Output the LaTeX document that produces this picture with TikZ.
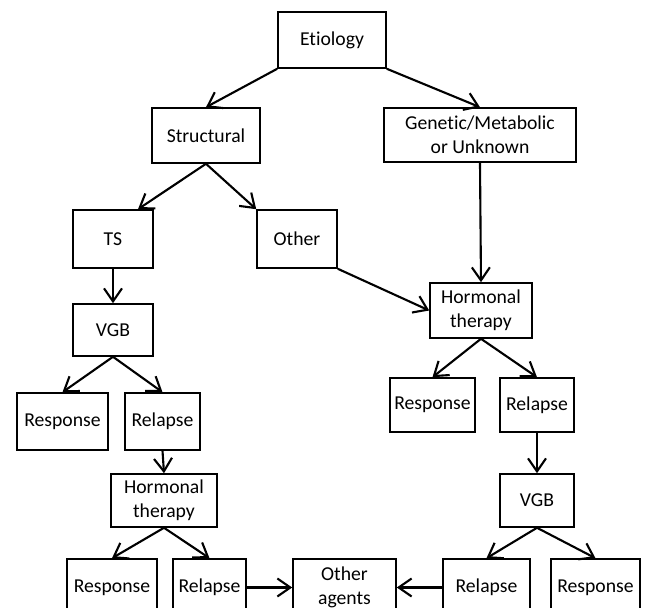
\documentclass[tikz,border=0pt]{standalone}
\usepackage{fontspec}
\setmainfont{Carlito}[Ligatures=NoCommon]
\usetikzlibrary{arrows.meta}
\begin{document}
\begin{tikzpicture}[
    box/.style={draw, line width=0.9pt, align=center, inner sep=1pt,
      font=\fontsize{11.2}{13.6}\selectfont},
    link/.style={line width=1.2pt, -{Straight Barb[length=2.6mm, width=3.6mm]}}
  ]
      \useasboundingbox (0,0) rectangle (12.92,-12.16);
      \draw
        (6.64,-0.80) node[box, minimum width=2.16cm, minimum height=1.12cm] (etio){Etiology}
        (4.12,-2.71) node[box, minimum width=2.16cm, minimum height=1.10cm] (struct){Structural}
        (9.60,-2.70) node[box, minimum width=3.84cm, minimum height=1.08cm] (gen){Genetic/Metabolic\\or Unknown}
        (2.26,-4.78) node[box, minimum width=1.60cm, minimum height=1.16cm] (ts){TS}
        (5.94,-4.78) node[box, minimum width=1.60cm, minimum height=1.16cm] (other){Other}
        (9.62,-6.21) node[box, minimum width=2.04cm, minimum height=1.10cm] (hormR){Hormonal\\therapy}
        (2.26,-6.60) node[box, minimum width=1.60cm, minimum height=1.04cm] (vgbL){VGB}
        (1.25,-8.43) node[box, minimum width=1.82cm, minimum height=1.14cm] (respL){Response}
        (3.25,-8.43) node[box, minimum width=1.50cm, minimum height=1.14cm] (relL){Relapse}
        (8.65,-8.10) node[box, minimum width=1.70cm, minimum height=1.08cm] (respR){Response}
        (10.74,-8.10) node[box, minimum width=1.48cm, minimum height=1.08cm] (relR){Relapse}
        (3.28,-10.01) node[box, minimum width=2.12cm, minimum height=1.06cm] (hormL){Hormonal\\therapy}
        (10.74,-10.01) node[box, minimum width=1.48cm, minimum height=1.06cm] (vgbR){VGB}
        (2.24,-11.75) node[box, minimum width=1.80cm, minimum height=1.14cm] (respB){Response}
        (4.19,-11.75) node[box, minimum width=1.46cm, minimum height=1.14cm] (relB){Relapse}
        (6.89,-11.75) node[box, minimum width=2.06cm, minimum height=1.14cm] (agents){Other\\agents}
        (9.73,-11.75) node[box, minimum width=1.74cm, minimum height=1.14cm] (relB2){Relapse}
        (11.91,-11.75) node[box, minimum width=1.78cm, minimum height=1.14cm] (respB2){Response};
      \begin{scope}[link]
        \draw (etio.south west) to (struct.north);
        \draw (etio.south east) to (gen.north);
        \draw (struct.south) to (ts.50);
        \draw (struct.south) to (other.north west);
        \draw (gen.south) to (hormR.north);
        \draw (other.south east) to (hormR.west);
        \draw (ts.south) to (vgbL.north);
        \draw (vgbL.south) to (respL.north);
        \draw (vgbL.south) to (relL.north);
        \draw (relL.south) to (hormL.north);
        \draw (hormL.south) to (respB.north);
        \draw (hormL.south) to (relB.north);
        \draw (hormR.south) to (respR.north);
        \draw (hormR.south) to (relR.north);
        \draw (relR.south) to (vgbR.north);
        \draw (vgbR.south) to (relB2.north);
        \draw (vgbR.south) to (respB2.north);
        \draw (relB.east) to (agents.west);
        \draw (relB2.west) to (agents.east);
      \end{scope}
    \end{tikzpicture}
\end{document}
